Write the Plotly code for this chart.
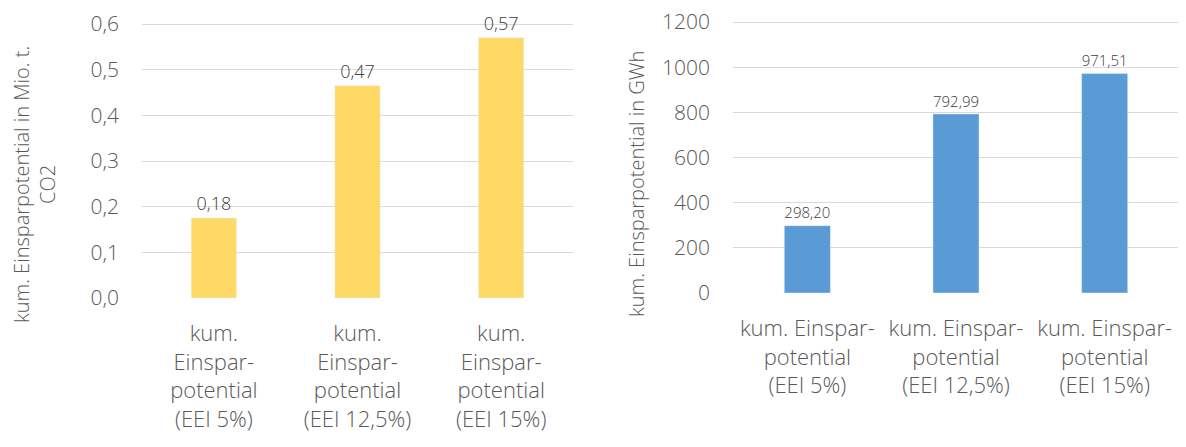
import plotly.graph_objects as go

# Kategorien (gleich für beide Diagramme, nur anders umbrochen)
KAT_LINKS = ["kum.<br>Einspar-<br>potential<br>(EEI 5%)",
             "kum.<br>Einspar-<br>potential<br>(EEI 12,5%)",
             "kum.<br>Einspar-<br>potential<br>(EEI 15%)"]
KAT_RECHTS = ["kum. Einspar-<br>potential<br>(EEI 5%)",
              "kum. Einspar-<br>potential<br>(EEI 12,5%)",
              "kum. Einspar-<br>potential<br>(EEI 15%)"]

# CO2-Einsparung in Mio. t
CO2 = [0.175, 0.465, 0.57]
CO2_LABELS = ["0,18", "0,47", "0,57"]
# Energieeinsparung in GWh
GWH = [298.20, 792.99, 971.51]
GWH_LABELS = ["298,20", "792,99", "971,51"]
# Achsen
CO2_TICKS = [0.0, 0.1, 0.2, 0.3, 0.4, 0.5, 0.6]
GWH_TICKS = [0, 200, 400, 600, 800, 1000, 1200]

GRAU = "#595959"
FONT = "Open Sans"

# Seite hat 8px Body-Rand -> Figur etwas kleiner, Pixel des Vorbilds umrechnen
W, H, RAND = 1178, 439, 8


def px(x):
    return min(max((x - RAND) / W, 0), 1)


def py(y):
    return min(max(1 - (y - RAND) / H, 0), 1)


# etwas Luft über dem obersten Tick, damit die Gitterlinie sichtbar bleibt
LUFT = 1.04
top_l = 298 - (298 - 24) * LUFT
top_r = 293 - (293 - 22) * LUFT

fig = go.Figure()
fig.add_trace(go.Bar(x=KAT_LINKS, y=CO2, text=CO2_LABELS, textposition="outside",
                     cliponaxis=False, marker_color="#FFD966", width=0.315,
                     textfont=dict(size=18, color="#404040"),
                     xaxis="x", yaxis="y", showlegend=False))
fig.add_trace(go.Bar(x=KAT_RECHTS, y=GWH, text=GWH_LABELS, textposition="outside",
                     cliponaxis=False, marker_color="#5B9BD5", width=0.31,
                     textfont=dict(size=18, color="#404040"),
                     xaxis="x2", yaxis="y2", showlegend=False))

achse_y = dict(showgrid=True, gridcolor="#D9D9D9", gridwidth=1, zeroline=False,
               showline=False, ticks="", ticklabelstandoff=22, automargin=False,
               ticklabeloverflow="allow", tickfont=dict(size=21, color=GRAU))
achse_x = dict(showgrid=False, zeroline=False, showline=False, ticks="",
               tickfont=dict(size=22, color=GRAU), ticklabelstandoff=20,
               tickangle=0, automargin=False)

fig.update_layout(
    width=W, height=H, margin=dict(l=0, r=0, t=0, b=0), autosize=False,
    paper_bgcolor="white", plot_bgcolor="white",
    font=dict(family=FONT, color=GRAU, weight=300),
    separators=",.",
    xaxis=dict(domain=[px(142), px(573)], anchor="y", **achse_x),
    yaxis=dict(domain=[py(298), py(top_l)], range=[0, CO2_TICKS[-1] * LUFT],
               tickvals=CO2_TICKS, tickformat=".1f", anchor="x", **achse_y),
    xaxis2=dict(domain=[px(733), px(1179)], anchor="y2", **achse_x),
    yaxis2=dict(domain=[py(293), py(top_r)], range=[0, GWH_TICKS[-1] * LUFT],
                tickvals=GWH_TICKS, tickformat="d", anchor="x2", **achse_y),
)

fig.add_annotation(text="kum. Einsparpotential in Mio. t.<br>CO2", textangle=-90,
                   x=px(35), y=py(185), xref="paper", yref="paper",
                   xanchor="center", yanchor="middle",
                   showarrow=False, font=dict(size=20, color=GRAU))
fig.add_annotation(text="kum. Einsparpotential in GWh", textangle=-90,
                   x=px(636), y=py(184), xref="paper", yref="paper",
                   xanchor="center", yanchor="middle",
                   showarrow=False, font=dict(size=20, color=GRAU))

fig.write_html("out.html")
